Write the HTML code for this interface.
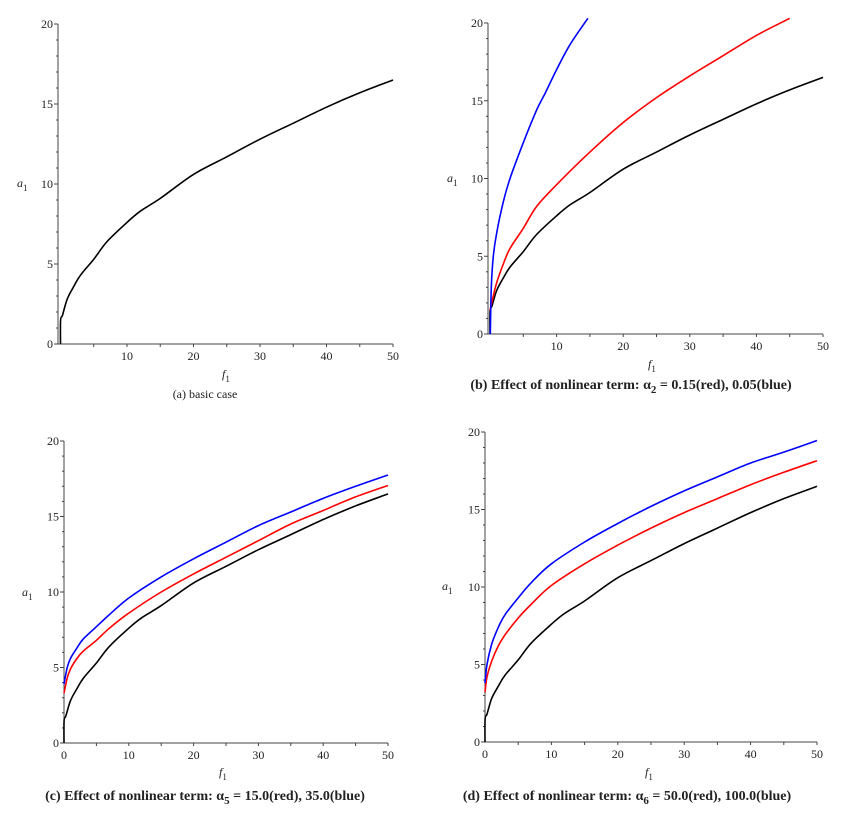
<!DOCTYPE html>
<html><head><meta charset="utf-8"><style>
body{margin:0;background:#fff;width:843px;height:822px;overflow:hidden}
svg text{font-family:"Liberation Serif",serif;fill:#222}
.cap{font-weight:bold}
</style></head><body>
<svg id="fig" width="843" height="822" xmlns="http://www.w3.org/2000/svg"></svg>
<script>
const NS='http://www.w3.org/2000/svg';
const yTicks=[0,5,10,15,20];
const xTicksAB=[10,20,30,40,50];
const xTicksCD=[0,10,20,30,40,50];
const fBase=[0,0.02,0.3,1,2,3,5,7,10,12,15,20,25,30,35,40,45,50];
const aBase=[0,1.5,1.8,2.8,3.6,4.3,5.3,6.4,7.6,8.3,9.1,10.6,11.7,12.8,13.8,14.8,15.7,16.5];
const fRedB=[0,0.3,1,2,3,5,7,10,15,20,25,30,35,40,45];
const aRedB=[1.5,2.1,3.3,4.5,5.5,6.8,8.2,9.6,11.7,13.6,15.2,16.6,17.9,19.2,20.3];
const fBlueB=[0.05,0.2,0.5,1,2,3,5,7,8.3,10,12,14.7];
const aBlueB=[0,3,5,6.5,8.5,10,12.3,14.4,15.5,17,18.6,20.3];
const fCD=[0,0.5,1,2,3,5,7,10,15,20,25,30,35,40,45,50];
const aRedC=[3.3,4.3,4.9,5.6,6.1,6.8,7.6,8.6,10,11.2,12.3,13.4,14.5,15.4,16.3,17.05];
const aBlueC=[3.9,5,5.6,6.3,6.9,7.7,8.5,9.6,11,12.2,13.3,14.4,15.3,16.2,17,17.75];
const fD=[0,0.3,1,2,3,5,7,10,15,20,25,30,35,40,45,50];
const aRedD=[3.2,4.2,5.2,6.2,6.9,8,8.9,10.1,11.5,12.7,13.8,14.8,15.7,16.6,17.4,18.15];
const aBlueD=[3.8,5,6.3,7.4,8.2,9.3,10.3,11.5,12.9,14.1,15.2,16.2,17.1,18,18.7,19.45];

const svg=document.getElementById('fig');
function el(tag,attrs,parent){const e=document.createElementNS(NS,tag);for(const k in attrs)e.setAttribute(k,attrs[k]);(parent||svg).appendChild(e);return e;}
function smooth(pts){
  let d='M'+pts[0][0].toFixed(1)+','+pts[0][1].toFixed(1);
  for(let i=0;i<pts.length-1;i++){
    const p0=pts[Math.max(0,i-1)],p1=pts[i],p2=pts[i+1],p3=pts[Math.min(pts.length-1,i+2)];
    const c1=[p1[0]+(p2[0]-p0[0])/6,p1[1]+(p2[1]-p0[1])/6];
    const c2=[p2[0]-(p3[0]-p1[0])/6,p2[1]-(p3[1]-p1[1])/6];
    d+='C'+c1[0].toFixed(1)+','+c1[1].toFixed(1)+' '+c2[0].toFixed(1)+','+c2[1].toFixed(1)+' '+p2[0].toFixed(1)+','+p2[1].toFixed(1);
  }
  return d;
}
function panel(p){
  const g=el('g',{});
  
  
  const sx=v=>p.x0+(p.x50-p.x0)*v/50;
  const sy=v=>p.y0+(p.y20-p.y0)*v/20;
  const ax=el('line',{x1:p.axX,y1:p.y0,x2:p.x50,y2:p.y0,stroke:'#444','stroke-width':1},g);
  
  const ay=el('line',{x1:p.axX,y1:p.y0,x2:p.axX,y2:p.y20,stroke:'#444','stroke-width':1},g);
  
  for(let v=0;v<=20;v++){const y=sy(v);el('line',{x1:p.axX-(v%5?2:4),y1:y,x2:p.axX,y2:y,stroke:'#444'},g);}
  for(let v=5;v<=50;v+=5){const x=sx(v);el('line',{x1:x,y1:p.y0,x2:x,y2:p.y0+3,stroke:'#444'},g);}
  yTicks.forEach(v=>{const t=el('text',{x:p.axX-5,y:sy(v)+4,'text-anchor':'end','font-size':12},g);t.textContent=v;
    });
  p.xt.forEach(v=>{const t=el('text',{x:sx(v),y:p.y0+16,'text-anchor':'middle','font-size':12},g);t.textContent=v;
    });
  const yl=el('text',{x:p.ylx,y:p.yly,'font-size':12,'font-style':'italic'},g);
  yl.innerHTML='a<tspan font-size="9" font-style="normal" dy="4">1</tspan>';
  
  const xl=el('text',{x:p.xlx,y:p.xly,'font-size':12,'font-style':'italic'},g);
  xl.innerHTML='f<tspan font-size="9" font-style="normal" dy="4">1</tspan>';
  
  const clip='c'+p.name;
  const cp=el('clipPath',{id:clip},g);el('rect',{x:p.axX-2,y:p.y20-6,width:p.x50-p.axX+6,height:p.y0-p.y20+6},cp);
  p.series.forEach(s=>{
    const pts=s.f.map((f,i)=>[sx(f),sy(s.a[i])]);
    const path=el('path',{d:smooth(pts),fill:'none',stroke:s.c,'stroke-width':1.6,'clip-path':'url(#'+clip+')'},g);
    
  });
  const c=el('text',{x:p.cx,y:p.cy,'text-anchor':'middle','class':p.capClass||'cap','font-size':p.capSize||14},g);
  c.innerHTML=p.cap;
  
}
panel({name:'panel-a',axX:58,x0:60.5,x50:393,y0:344,y20:24,xt:xTicksAB,ylx:17,yly:187,xlx:222,xly:378,
  cx:205,cy:398,capClass:'plain',capSize:12,cap:'(a) basic case',
  series:[{f:fBase,a:aBase,c:'#000',n:'base-curve'}]});
panel({name:'panel-b',axX:488,x0:490,x50:823,y0:334,y20:23,xt:xTicksAB,ylx:447,yly:182,xlx:648,xly:368,
  cx:631,cy:389,cap:'(b) Effect of nonlinear term: &#945;<tspan dy="4" font-size="11">2</tspan><tspan dy="-4"> = 0.15(red), 0.05(blue)</tspan>',
  series:[{f:fBase,a:aBase,c:'#000',n:'base-curve'},{f:fRedB,a:aRedB,c:'#f00',n:'red-curve'},{f:fBlueB,a:aBlueB,c:'#00f',n:'blue-curve'}]});
panel({name:'panel-c',axX:64,x0:64,x50:388,y0:743,y20:441,xt:xTicksCD,ylx:22,yly:596,xlx:219,xly:776,
  cx:205,cy:800,cap:'(c) Effect of nonlinear term: &#945;<tspan dy="4" font-size="11">5</tspan><tspan dy="-4"> = 15.0(red), 35.0(blue)</tspan>',
  series:[{f:fBase,a:aBase,c:'#000',n:'base-curve'},{f:fCD,a:aRedC,c:'#f00',n:'red-curve'},{f:fCD,a:aBlueC,c:'#00f',n:'blue-curve'}]});
panel({name:'panel-d',axX:485,x0:485,x50:817,y0:742,y20:432,xt:xTicksCD,ylx:442,yly:590,xlx:645,xly:776,
  cx:627,cy:800,cap:'(d) Effect of nonlinear term: &#945;<tspan dy="4" font-size="11">6</tspan><tspan dy="-4"> = 50.0(red), 100.0(blue)</tspan>',
  series:[{f:fBase,a:aBase,c:'#000',n:'base-curve'},{f:fD,a:aRedD,c:'#f00',n:'red-curve'},{f:fD,a:aBlueD,c:'#00f',n:'blue-curve'}]});
</script>
</body></html>
